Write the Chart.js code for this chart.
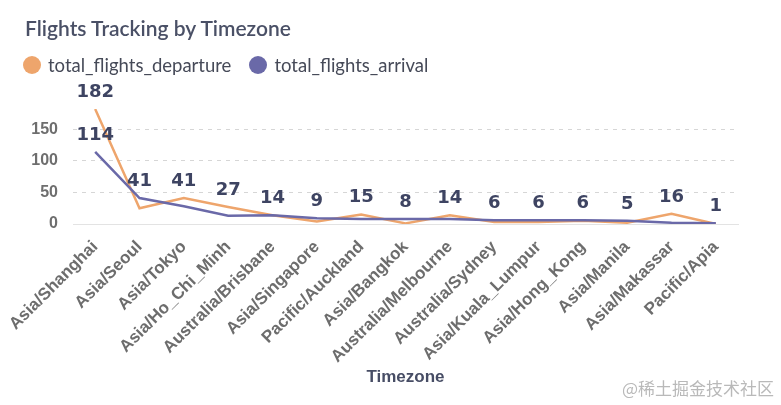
<!DOCTYPE html>
<html>
<head>
    <title>Flights Tracking by Timezone</title>
    <style>
        body {
            margin: 0;
            background: #fff;
            font-family: Lato, Arial, sans-serif;
        }
        .wrap {
            position: relative;
            width: 781px;
            height: 405px;
            overflow: hidden;
        }
        .title {
            position: absolute;
            left: 25px;
            top: 15px;
            font-size: 21px;
            font-weight: 600;
            color: #4a5066;
        }
        .legend {
            position: absolute;
            left: 23px;
            top: 54px;
            font-size: 18.5px;
            color: #464a58;
            display: flex;
        }
        .legend span {
            display: flex;
            align-items: center;
            margin-right: 18px;
            line-height: 22px;
        }
        .legend i {
            display: inline-block;
            width: 18px;
            height: 18px;
            border-radius: 50%;
            margin-right: 7px;
        }
        .mark {
            position: absolute;
            right: 7px;
            bottom: 5px;
            font-family: "Noto Sans CJK SC", sans-serif;
            font-size: 17px;
            color: #b9b9b9;
        }
        canvas {
            position: absolute;
            left: 0;
            top: 0;
        }
    </style>
</head>
<body>
    <div class="wrap">
        <canvas id="flightsChart" width="781" height="405"></canvas>
        <div class="title">Flights Tracking by Timezone</div>
        <div class="legend" id="legend"></div>
        <div class="mark">@稀土掘金技术社区</div>
    </div>

    <script src="https://cdn.jsdelivr.net/npm/chart.js"></script>
    <script>
        const timezones = ['Asia/Shanghai', 'Asia/Seoul', 'Asia/Tokyo', 'Asia/Ho_Chi_Minh', 'Australia/Brisbane',
            'Asia/Singapore', 'Pacific/Auckland', 'Asia/Bangkok', 'Australia/Melbourne', 'Australia/Sydney',
            'Asia/Kuala_Lumpur', 'Asia/Hong_Kong', 'Asia/Manila', 'Asia/Makassar', 'Pacific/Apia'];
        const departures = [182, 25, 41, 27, 14, 4, 15, 1, 14, 3, 3, 5, 2, 16, 0];
        const arrivals = [114, 41, 28, 13, 14, 9, 8, 8, 8, 6, 6, 6, 5, 2, 1];
        const yTicks = [0, 50, 100, 150];

        const orange = '#eea56c';
        const purple = '#6a69a8';

        // legend in html
        const legendEl = document.getElementById('legend');
        [['total_flights_departure', orange], ['total_flights_arrival', purple]].forEach(([name, color]) => {
            const s = document.createElement('span');
            s.innerHTML = '<i style="background:' + color + '"></i>' + name;
            legendEl.appendChild(s);
        });

        // value labels above the higher point, both when far apart
        const valueLabels = {
            id: 'valueLabels',
            afterDatasetsDraw(chart) {
                const ctx = chart.ctx;
                const m0 = chart.getDatasetMeta(0);
                const m1 = chart.getDatasetMeta(1);
                ctx.save();
                ctx.font = 'bold 18px "DejaVu Sans", Arial, sans-serif';
                ctx.fillStyle = '#3e4462';
                ctx.textAlign = 'center';
                ctx.textBaseline = 'middle';
                timezones.forEach((tz, i) => {
                    const p0 = m0.data[i], p1 = m1.data[i];
                    const pts = [[p0, departures[i]], [p1, arrivals[i]]];
                    if (Math.abs(p0.y - p1.y) > 22) {
                        pts.forEach(([p, v]) => ctx.fillText(v, p.x, p.y - 17));
                    } else {
                        const top = p0.y <= p1.y ? pts[0] : pts[1];
                        ctx.fillText(top[1], top[0].x, top[0].y - 17);
                    }
                });
                ctx.restore();
            }
        };

        const ctx = document.getElementById('flightsChart').getContext('2d');
        const chart = new Chart(ctx, {
            type: 'line',
            data: {
                labels: timezones,
                datasets: [{
                    label: 'total_flights_departure',
                    data: departures,
                    borderColor: orange,
                    backgroundColor: orange,
                    borderWidth: 2.5,
                    pointRadius: 0,
                    tension: 0,
                    order: 1
                }, {
                    label: 'total_flights_arrival',
                    data: arrivals,
                    borderColor: purple,
                    backgroundColor: purple,
                    borderWidth: 2.5,
                    pointRadius: 0,
                    tension: 0,
                    order: 0
                }]
            },
            options: {
                responsive: false,
                animation: false,
                layout: {
                    padding: { top: 109, right: 43, bottom: 11, left: 0 }
                },
                plugins: {
                    legend: { display: false },
                    tooltip: { enabled: false }
                },
                scales: {
                    x: {
                        offset: true,
                        grid: { display: false },
                        border: { display: true, color: '#e3e3e3', width: 1 },
                        ticks: {
                            autoSkip: false,
                            minRotation: 45,
                            maxRotation: 45,
                            padding: 5,
                            color: '#6d6d6d',
                            font: { family: 'Arial, "Liberation Sans"', size: 17, weight: 'bold' }
                        },
                        title: {
                            display: true,
                            text: 'Timezone',
                            color: '#474d65',
                            padding: { top: 6, bottom: 6 },
                            font: { family: 'Arial, "Liberation Sans"', size: 17, weight: 'bold' }
                        },
                        afterFit(s) {
                            s.height = 405 - 11 - 224;
                            s.paddingLeft = 0;
                            s.paddingRight = 0;
                        }
                    },
                    y: {
                        min: 0,
                        max: 182,
                        grid: {
                            drawTicks: false,
                            lineWidth: 1,
                            color: c => c.tick.value === 0 ? 'rgba(0,0,0,0)' : '#d6d6d6'
                        },
                        border: { display: false, dash: [4, 5] },
                        ticks: {
                            stepSize: 50,
                            padding: 15,
                            color: '#6e6e6e',
                            font: { family: 'Arial, "Liberation Sans"', size: 16, weight: 'bold' }
                        },
                        afterBuildTicks(s) {
                            s.ticks = yTicks.map(v => ({ value: v }));
                        },
                        afterFit(s) {
                            s.width = 73;
                        }
                    }
                }
            },
            plugins: [valueLabels]
        });
    </script>
</body>
</html>
